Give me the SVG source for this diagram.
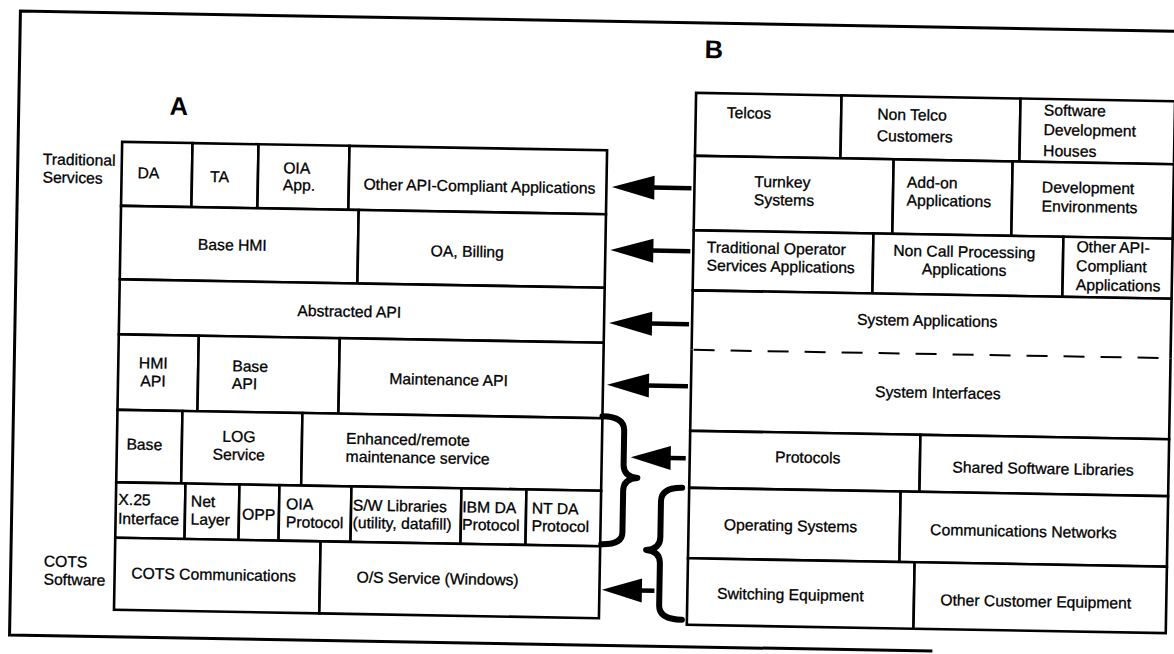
<svg xmlns="http://www.w3.org/2000/svg" width="1174" height="654" viewBox="0 0 1174 654">
<style>
.cell{fill:#fff;stroke:#000;stroke-width:2.6}
.t{font-family:"Liberation Sans",Arial,Helvetica,sans-serif;font-size:15.7px;fill:#000;stroke:#000;stroke-width:0.3}
.m{text-anchor:middle}
.ttl{font-family:"Liberation Sans",Arial,Helvetica,sans-serif;font-size:25.5px;font-weight:bold;fill:#000;text-anchor:middle}
.frame{fill:none;stroke:#000;stroke-width:3}
.shaft{stroke:#000;stroke-width:4.5}
.head{fill:#000}
.brace{fill:none;stroke:#000;stroke-width:6;stroke-linecap:round;stroke-linejoin:round}
.dash{stroke:#000;stroke-width:2;stroke-dasharray:21 16}
</style>
<rect x="0" y="0" width="1174" height="654" fill="#fff"/>
<g transform="rotate(1 587 327)">
<path class="frame" d="M1200,21 H15 V645 H938"/>
<text class="ttl" x="175" y="122">A</text>
<text class="ttl" x="709" y="56">B</text>
<g id="label-traditional"><text class="t"><tspan x="40" y="174">Traditional</tspan><tspan x="40" y="192">Services</tspan></text></g>
<g id="label-cots"><text class="t"><tspan x="48" y="576">COTS</tspan><tspan x="48" y="594">Software</tspan></text></g>

<!-- Stack A -->
<g id="a-da"><rect class="cell" x="119" y="150" width="70.4" height="64"/><text class="t" x="135" y="186">DA</text></g>
<g id="a-ta"><rect class="cell" x="189.4" y="150" width="66" height="64"/><text class="t" x="207.5" y="188.5">TA</text></g>
<g id="a-oia-app"><rect class="cell" x="255.4" y="150" width="91" height="64"/><text class="t"><tspan x="280.5" y="178.5">OIA</tspan><tspan x="280.5" y="195.5">App.</tspan></text></g>
<g id="a-other-api"><rect class="cell" x="346.4" y="150" width="257.6" height="64"/><text class="t m" x="477" y="193.5">Other API-Compliant Applications</text></g>
<g id="a-base-hmi"><rect class="cell" x="119" y="214" width="237.7" height="73.5"/><text class="t m" x="231" y="256.5">Base HMI</text></g>
<g id="a-oa-billing"><rect class="cell" x="356.7" y="214" width="247.3" height="73.5"/><text class="t m" x="466" y="259">OA, Billing</text></g>
<g id="a-abstracted-api"><rect class="cell" x="119" y="287.5" width="485" height="55"/><text class="t m" x="349" y="321">Abstracted API</text></g>
<g id="a-hmi-api"><rect class="cell" x="119" y="342.5" width="80" height="75.5"/><text class="t m"><tspan x="154" y="376">HMI</tspan><tspan x="154" y="394">API</tspan></text></g>
<g id="a-base-api"><rect class="cell" x="199" y="342.5" width="141" height="75.5"/><text class="t"><tspan x="233" y="377.5">Base</tspan><tspan x="233" y="395">API</tspan></text></g>
<g id="a-maint-api"><rect class="cell" x="340" y="342.5" width="264" height="75.5"/><text class="t m" x="449.5" y="387.5">Maintenance API</text></g>
<g id="a-base"><rect class="cell" x="119" y="418" width="65" height="72.5"/><text class="t m" x="146.5" y="457.5">Base</text></g>
<g id="a-log"><rect class="cell" x="184" y="418" width="120" height="72.5"/><text class="t m"><tspan x="241" y="448">LOG</tspan><tspan x="241" y="466">Service</tspan></text></g>
<g id="a-enhanced"><rect class="cell" x="304" y="418" width="300" height="72.5"/><text class="t"><tspan x="348" y="448">Enhanced/remote</tspan><tspan x="348" y="466">maintenance service</tspan></text></g>
<g id="a-x25"><rect class="cell" x="119" y="490.5" width="69.3" height="55.5"/><text class="t"><tspan x="121.5" y="513">X.25</tspan><tspan x="121.5" y="532">Interface</tspan></text></g>
<g id="a-net"><rect class="cell" x="188.3" y="490.5" width="54" height="55.5"/><text class="t"><tspan x="194" y="513.5">Net</tspan><tspan x="194" y="531.5">Layer</tspan></text></g>
<g id="a-opp"><rect class="cell" x="242.3" y="490.5" width="40" height="55.5"/><text class="t m" x="262" y="525.5">OPP</text></g>
<g id="a-oia-protocol"><rect class="cell" x="282.3" y="490.5" width="72" height="55.5"/><text class="t"><tspan x="289.3" y="514.5">OIA</tspan><tspan x="289.3" y="532.5">Protocol</tspan></text></g>
<g id="a-sw-lib"><rect class="cell" x="354.3" y="490.5" width="110" height="55.5"/><text class="t"><tspan x="356" y="514.5">S/W Libraries</tspan><tspan x="356" y="532">(utility, datafill)</tspan></text></g>
<g id="a-ibm-da"><rect class="cell" x="464.3" y="490.5" width="65" height="55.5"/><text class="t"><tspan x="465.5" y="514.5">IBM DA</tspan><tspan x="465.5" y="532">Protocol</tspan></text></g>
<g id="a-nt-da"><rect class="cell" x="529.3" y="490.5" width="74.7" height="55.5"/><text class="t"><tspan x="535" y="514.5">NT DA</tspan><tspan x="535" y="532">Protocol</tspan></text></g>
<g id="a-cots-comm"><rect class="cell" x="119" y="546" width="205.4" height="72"/><text class="t m" x="218" y="586.5">COTS Communications</text></g>
<g id="a-os-service"><rect class="cell" x="324.4" y="546" width="279.6" height="72"/><text class="t m" x="442" y="586.5">O/S Service (Windows)</text></g>

<!-- Stack B -->
<g id="b-telcos"><rect class="cell" x="692" y="91" width="145.5" height="63"/><text class="t" x="723" y="115.5">Telcos</text></g>
<g id="b-nontelco"><rect class="cell" x="837.5" y="91" width="179" height="63"/><text class="t"><tspan x="873.5" y="114.5">Non Telco</tspan><tspan x="873.5" y="136">Customers</tspan></text></g>
<g id="b-software-houses"><rect class="cell" x="1016.5" y="91" width="154.5" height="63"/><text class="t"><tspan x="1040" y="107.5">Software</tspan><tspan x="1040" y="127">Development</tspan><tspan x="1040" y="148">Houses</tspan></text></g>
<g id="b-turnkey"><rect class="cell" x="692" y="154" width="198.7" height="74.5"/><text class="t"><tspan x="751.7" y="184">Turnkey</tspan><tspan x="751.7" y="202">Systems</tspan></text></g>
<g id="b-addon"><rect class="cell" x="890.7" y="154" width="119" height="74.5"/><text class="t"><tspan x="904.4" y="182">Add-on</tspan><tspan x="904.4" y="200">Applications</tspan></text></g>
<g id="b-devenv"><rect class="cell" x="1009.7" y="154" width="161.3" height="74.5"/><text class="t"><tspan x="1039.4" y="184.5">Development</tspan><tspan x="1039.4" y="203.5">Environments</tspan></text></g>
<g id="b-trad-op"><rect class="cell" x="692" y="228.5" width="179.8" height="60"/><text class="t"><tspan x="705.5" y="250.5">Traditional Operator</tspan><tspan x="705.5" y="268.5">Services Applications</tspan></text></g>
<g id="b-noncall"><rect class="cell" x="871.8" y="228.5" width="190" height="60"/><text class="t m"><tspan x="963" y="250.5">Non Call Processing</tspan><tspan x="963" y="268.5">Applications</tspan></text></g>
<g id="b-other-api"><rect class="cell" x="1061.8" y="228.5" width="109.2" height="60"/><text class="t"><tspan x="1075" y="243.5">Other API-</tspan><tspan x="1075" y="262.5">Compliant</tspan><tspan x="1075" y="281.5">Applications</tspan></text></g>
<g id="b-sys-apps"><path class="cell" d="M692,348 V288.5 H1171 V348"/><text class="t m" x="927" y="320">System Applications</text></g>
<g id="b-sys-if"><path class="cell" d="M692,348 V429 H1171 V348"/><line class="dash" x1="694" y1="348" x2="1170" y2="348"/><text class="t m" x="939" y="392">System Interfaces</text></g>
<g id="b-protocols"><rect class="cell" x="692" y="429" width="230.3" height="57"/><text class="t m" x="810" y="459">Protocols</text></g>
<g id="b-shared-lib"><rect class="cell" x="922.3" y="429" width="248.7" height="57"/><text class="t m" x="1045.5" y="466">Shared Software Libraries</text></g>
<g id="b-os"><rect class="cell" x="692" y="486" width="211.5" height="70.5"/><text class="t m" x="794" y="527.5">Operating Systems</text></g>
<g id="b-comm-net"><rect class="cell" x="903.5" y="486" width="267.5" height="70.5"/><text class="t m" x="1027" y="529">Communications Networks</text></g>
<g id="b-switching"><rect class="cell" x="692" y="556.5" width="226.7" height="66.5"/><text class="t m" x="795" y="596.5">Switching Equipment</text></g>
<g id="b-other-cust"><rect class="cell" x="918.7" y="556.5" width="252.3" height="66.5"/><text class="t m" x="1040.5" y="599">Other Customer Equipment</text></g>

<!-- Connectors -->
<g id="connectors">
<line class="shaft" x1="650" y1="186.5" x2="689" y2="186.5"/><polygon class="head" points="609.5,186.5 652,174.5 652,198.5"/>
<line class="shaft" x1="650" y1="249.5" x2="689" y2="249.5"/><polygon class="head" points="609,249.5 652,237.5 652,261.5"/>
<line class="shaft" x1="650" y1="322.5" x2="689" y2="322.5"/><polygon class="head" points="609,322.5 652,310.5 652,334.5"/>
<line class="shaft" x1="648" y1="384.5" x2="689" y2="384.5"/><polygon class="head" points="608,384.5 650,372.5 650,396.5"/>
<line class="shaft" x1="671" y1="456.5" x2="688" y2="456.5"/><polygon class="head" points="633,456.5 673,444.5 673,468.5"/>
<line class="shaft" x1="644" y1="589.5" x2="659" y2="589.5"/><polygon class="head" points="606.5,589.5 646.5,577.5 646.5,601.5"/>
<path class="brace" d="M604,416 Q626,416 626,430 L626,464 Q626,476 640,477 Q626,478 626,490 L626,532 Q626,544 605,544"/>
<path class="brace" d="M685,486 Q664,486 664,500 L664,536 Q664,548 650,549 Q664,550 664,562 L664,604 Q664,618 687,618"/>
</g>
</g>
</svg>
